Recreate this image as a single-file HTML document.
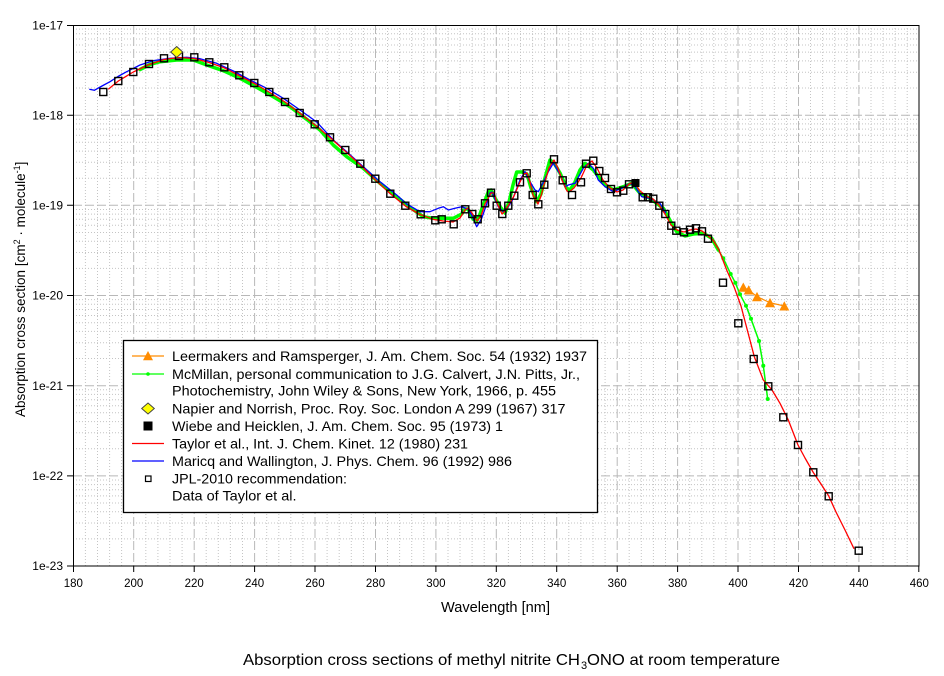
<!DOCTYPE html>
<html><head><meta charset="utf-8"><style>
html,body{margin:0;padding:0;background:#fff;}
svg{display:block;font-family:"Liberation Sans",Arial,sans-serif;}
</style></head><body>
<svg width="944" height="676" viewBox="0 0 944 676" xmlns="http://www.w3.org/2000/svg">
<rect x="0" y="0" width="944" height="676" fill="#fff"/>
<!-- minor grid vertical -->
<path fill="none" stroke="#c4c4c4" stroke-width="1" stroke-dasharray="1,2" d="
M85.4 25V566M97.5 25V566M109.6 25V566M121.6 25V566
M145.8 25V566M157.9 25V566M170 25V566M182.1 25V566
M206.2 25V566M218.3 25V566M230.4 25V566M242.5 25V566
M266.7 25V566M278.8 25V566M290.8 25V566M302.9 25V566
M327.1 25V566M339.2 25V566M351.3 25V566M363.4 25V566
M387.5 25V566M399.6 25V566M411.7 25V566M423.8 25V566
M448 25V566M460 25V566M472.1 25V566M484.2 25V566
M508.4 25V566M520.5 25V566M532.6 25V566M544.6 25V566
M568.8 25V566M580.9 25V566M593 25V566M605.1 25V566
M629.2 25V566M641.3 25V566M653.4 25V566M665.5 25V566
M689.7 25V566M701.8 25V566M713.8 25V566M725.9 25V566
M750.1 25V566M762.2 25V566M774.3 25V566M786.4 25V566
M810.5 25V566M822.6 25V566M834.7 25V566M846.8 25V566
M871 25V566M883 25V566M895.1 25V566M907.2 25V566"/>
<!-- minor grid horizontal -->
<path fill="none" stroke="#c4c4c4" stroke-width="1" stroke-dasharray="1,2" d="
M73 29.1H919M73 33.7H919M73 39H919M73 45H919M73 52.1H919M73 60.9H919M73 72.2H919M73 88H919
M73 119.3H919M73 123.9H919M73 129.1H919M73 135.2H919M73 142.3H919M73 151.1H919M73 162.3H919M73 178.2H919
M73 209.5H919M73 214.1H919M73 219.3H919M73 225.3H919M73 232.5H919M73 241.2H919M73 252.5H919M73 268.4H919
M73 299.6H919M73 304.3H919M73 309.5H919M73 315.5H919M73 322.7H919M73 331.4H919M73 342.7H919M73 358.5H919
M73 389.8H919M73 394.4H919M73 399.7H919M73 405.7H919M73 412.8H919M73 421.6H919M73 432.8H919M73 448.7H919
M73 480H919M73 484.6H919M73 489.8H919M73 495.9H919M73 503H919M73 511.7H919M73 523H919M73 538.9H919"/>
<!-- major grid -->
<path fill="none" stroke="#b8b8b8" stroke-width="1" stroke-dasharray="9,3" d="
M133.7 25V566M194.2 25V566M254.6 25V566M315 25V566M375.5 25V566M435.9 25V566M496.3 25V566
M556.7 25V566M617.2 25V566M677.6 25V566M738 25V566M798.5 25V566M858.9 25V566
M73 115.2H919M73 205.3H919M73 295.5H919M73 385.7H919M73 475.9H919"/>
<!-- frame -->
<rect x="73.5" y="25.5" width="845.5" height="540.5" fill="none" stroke="#000" stroke-width="1"/>
<!-- ticks -->
<path fill="none" stroke="#000" stroke-width="1" d="
M67 25.5H73M67 115.2H73M67 205.3H73M67 295.5H73M67 385.7H73M67 475.9H73M67 566H73
M73.5 566V572M133.7 566V572M194.2 566V572M254.6 566V572M315 566V572M375.5 566V572M435.9 566V572M496.3 566V572
M556.7 566V572M617.2 566V572M677.6 566V572M738 566V572M798.5 566V572M858.9 566V572M918.8 566V572"/>
<!-- y tick labels -->
<g font-size="12" text-anchor="end" fill="#000">
<text x="63" y="29.5">1e-17</text>
<text x="63" y="119.5">1e-18</text>
<text x="63" y="209.5">1e-19</text>
<text x="63" y="299.5">1e-20</text>
<text x="63" y="390">1e-21</text>
<text x="63" y="480">1e-22</text>
<text x="63" y="570">1e-23</text>
</g>
<!-- x tick labels -->
<g font-size="11.5" text-anchor="middle" fill="#000">
<text x="73.3" y="587">180</text>
<text x="133.7" y="587">200</text>
<text x="194.2" y="587">220</text>
<text x="254.6" y="587">240</text>
<text x="315" y="587">260</text>
<text x="375.5" y="587">280</text>
<text x="435.9" y="587">300</text>
<text x="496.3" y="587">320</text>
<text x="556.7" y="587">340</text>
<text x="617.2" y="587">360</text>
<text x="677.6" y="587">380</text>
<text x="738" y="587">400</text>
<text x="798.5" y="587">420</text>
<text x="858.9" y="587">440</text>
<text x="919.3" y="587">460</text>
</g>
<!-- axis titles -->
<text x="441" y="612" font-size="14.5" textLength="109" lengthAdjust="spacingAndGlyphs">Wavelength [nm]</text>
<text transform="translate(25,417) rotate(-90)" font-size="13.5">Absorption cross section [cm<tspan dy="-5" font-size="9">2</tspan><tspan dy="5"> · molecule</tspan><tspan dy="-5" font-size="9">-1</tspan><tspan dy="5">]</tspan></text>
<!-- title -->
<text x="243" y="665" font-size="16" textLength="337" lengthAdjust="spacingAndGlyphs">Absorption cross sections of methyl nitrite CH</text>
<text x="581" y="669" font-size="11">3</text>
<text x="587" y="665" font-size="16" textLength="193" lengthAdjust="spacingAndGlyphs">ONO at room temperature</text>

<!-- Green McMillan -->
<polyline fill="none" stroke="#00ff00" stroke-width="3.5" stroke-linejoin="round" stroke-linecap="round" points="140,69.5 150,64.5 160,61.7 176.7,60 193.3,60 206.7,65 223.3,70.7 240,78.3 256.7,87.3 273.3,96.7 290,106.7 306.7,119.3 320,130 333.3,145 346.7,156.7 363.3,168.3 380,183.3 396.7,196.7 410,207.3 423.3,216.7 433.3,218.3 443.3,218.3 453.3,218.3 461.7,214 465,209 468,209 473,219 476.7,221 480,214 483.3,205 488.3,191.7 491,190 495,198 500,206.7 505,213 509,202 513,185 516.7,172 522,172 527,174 531,188 536.7,201.7 541,194 545,178 550,160 554,163 560,173 566.7,188.3 570,190 575,182 580,170 585,163.3 593.3,170 603.3,183.3 613.3,190 623.3,186.7 631.7,183.3 640,193.3 650,198.3 663.3,208.3 671.7,223.3 676.7,231.7 685,236 693.3,234 703.3,233.3 711.7,238.3 718.3,250"/>
<polyline fill="none" stroke="#00ff00" stroke-width="1.5" stroke-linejoin="round" points="718.3,250 723.3,258.3 730.7,274 735.3,282.7 740,294.3 746,305.7 751,318.7 759,341 763.3,365.7 767.7,399"/>
<g fill="#00ff00">
<circle cx="723.3" cy="258.3" r="2"/><circle cx="730.7" cy="274" r="2"/><circle cx="735.3" cy="282.7" r="2"/><circle cx="740" cy="294.3" r="2"/><circle cx="746" cy="305.7" r="2"/><circle cx="751" cy="318.7" r="2"/><circle cx="759" cy="341" r="2"/><circle cx="763.3" cy="365.7" r="2"/><circle cx="767.7" cy="399" r="2"/>
</g>
<!-- Blue Maricq -->
<polyline fill="none" stroke="#0000ff" stroke-width="1.3" stroke-linejoin="round" points="89.3,89.3 94.3,90.3 102,86 110,81.7 118,76.5 126.7,71.7 140,65 153.3,60.7 170,58.3 186.7,57.3 200,58.7 216.7,63.3 233.3,71 250,80 266.7,88.3 283.3,98.3 300,110 316.7,122 333.3,140 346.7,151.7 363.3,166.7 380,181.7 396.7,195 406.7,204 420,211.7 430,211.7 438.3,208.3 443.3,206.7 448.3,210 455,208.3 461.7,206.7 465,208 468,209 471.7,215 476.7,226.7 481.7,218.3 486.7,204 490,193 492,192 498.3,206.7 503.3,211.7 507,208 511.7,201.7 520,180 525,171.7 530,181.7 535,190 538.3,191.7 543,183 548.3,171.7 553.3,163.3 560,174 565,186.7 568.3,185 575,183.3 583.3,168.3 588.3,163.3 593.3,168.3 598.3,180 605,186.7 613.3,191.7 621.7,188.3 630,183.3 635,186.7 641.7,196.7 650,198.3 660,203.3 666,213"/>
<!-- Red Taylor -->
<polyline fill="none" stroke="#ff0000" stroke-width="1.3" stroke-linejoin="round" points="108.3,89.3 118.3,81 133.3,72 148,65 164,59.5 179,57.5 194,58.5 209,62.5 224,67.8 239,75.5 254,83.3 269,92 285,102 300,113.3 315,125 330,137.5 345.5,151.5 360.5,165 375.5,180 390,193.5 398,200 406,206.5 420,214.5 433,219.3 443,221 453,222 460,218 465,210 468,208 472,213 477,221 481,216 485,204 491,193 494,193 497,203 502,214 505,211 508,206 514,196 520,182 524,174 527,173 530,182 533,195 538,204 541,196 544,185 549,168 554,160 558,168 562,180 567,191 569,192 574,188 581,178 587,165 592,161 597,168 603,180 610,188 617,192 623,190 629,184 634,182 640,191 648,197 653,199 659,205 665,214 671,225 677,230 684,232 690,230 696,229 702,231 707,235 713,240 719,250 726.7,270 734,286.7 741,306 747.3,330 754.3,356.7 763.3,380 772,390 780,403.3 788.3,420 798,445 805,458 813,472 821,484 828.7,496 836,512 845,530 854,548.7"/>
<!-- Orange Leermakers -->
<polyline fill="none" stroke="#ff8c00" stroke-width="1.2" points="743.3,287.3 748.7,290 757,296.7 770,302.7 784.3,306"/>
<g fill="#ff8c00">
<polygon points="738.3,291.8 748.3,291.8 743.3,282.5"/>
<polygon points="743.7,294.5 753.7,294.5 748.7,285.2"/>
<polygon points="752,301.2 762,301.2 757,291.9"/>
<polygon points="765,307.2 775,307.2 770,297.9"/>
<polygon points="779.3,310.5 789.3,310.5 784.3,301.2"/>
</g>
<!-- JPL squares -->
<g fill="none" stroke="#000" stroke-width="1.4">
<rect x="99.8" y="88.5" width="7" height="7"/><rect x="114.8" y="77.5" width="7" height="7"/><rect x="129.8" y="68.5" width="7" height="7"/><rect x="145.5" y="60.5" width="7" height="7"/><rect x="160.5" y="54.8" width="7" height="7"/><rect x="175.5" y="52.5" width="7" height="7"/><rect x="190.8" y="53.8" width="7" height="7"/><rect x="205.8" y="58.8" width="7" height="7"/><rect x="220.8" y="63.8" width="7" height="7"/><rect x="235.8" y="71.8" width="7" height="7"/><rect x="250.8" y="79.5" width="7" height="7"/><rect x="265.8" y="88.5" width="7" height="7"/><rect x="281.5" y="98.5" width="7" height="7"/><rect x="296.2" y="109.5" width="7" height="7"/><rect x="311.2" y="120.8" width="7" height="7"/><rect x="326.5" y="133.8" width="7" height="7"/><rect x="341.8" y="146.5" width="7" height="7"/><rect x="356.8" y="160.2" width="7" height="7"/><rect x="371.8" y="175.2" width="7" height="7"/><rect x="386.8" y="190.2" width="7" height="7"/><rect x="401.8" y="202.2" width="7" height="7"/><rect x="417.2" y="210.8" width="7" height="7"/><rect x="431.8" y="216.8" width="7" height="7"/><rect x="438.2" y="215.8" width="7" height="7"/><rect x="450.2" y="220.8" width="7" height="7"/><rect x="461.8" y="205.8" width="7" height="7"/><rect x="468.8" y="210.5" width="7" height="7"/><rect x="474.2" y="215.8" width="7" height="7"/><rect x="481.5" y="199.8" width="7" height="7"/><rect x="487.5" y="189.2" width="7" height="7"/><rect x="493.2" y="202.2" width="7" height="7"/><rect x="498.8" y="210.5" width="7" height="7"/><rect x="504.8" y="202.2" width="7" height="7"/><rect x="510.8" y="192.2" width="7" height="7"/><rect x="516.5" y="178.8" width="7" height="7"/><rect x="523.2" y="169.8" width="7" height="7"/><rect x="529.2" y="191.5" width="7" height="7"/><rect x="534.8" y="200.8" width="7" height="7"/><rect x="540.8" y="181.2" width="7" height="7"/><rect x="550.5" y="155.8" width="7" height="7"/><rect x="559.2" y="176.8" width="7" height="7"/><rect x="568.5" y="191.5" width="7" height="7"/><rect x="577.5" y="178.8" width="7" height="7"/><rect x="582.5" y="160.2" width="7" height="7"/><rect x="589.8" y="157.2" width="7" height="7"/><rect x="595.8" y="167.5" width="7" height="7"/><rect x="601.5" y="174.5" width="7" height="7"/><rect x="607.5" y="185.5" width="7" height="7"/><rect x="613.5" y="188.8" width="7" height="7"/><rect x="619.8" y="187.2" width="7" height="7"/><rect x="625.5" y="180.8" width="7" height="7"/><rect x="639.2" y="193.8" width="7" height="7"/><rect x="644.5" y="193.8" width="7" height="7"/><rect x="649.8" y="195.2" width="7" height="7"/><rect x="655.8" y="202.2" width="7" height="7"/><rect x="661.8" y="210.5" width="7" height="7"/><rect x="667.8" y="222.2" width="7" height="7"/><rect x="672.8" y="227.2" width="7" height="7"/><rect x="680.5" y="228.8" width="7" height="7"/><rect x="686.5" y="226.2" width="7" height="7"/><rect x="692.5" y="224.8" width="7" height="7"/><rect x="698.5" y="227.8" width="7" height="7"/><rect x="704.5" y="235.2" width="7" height="7"/><rect x="719.5" y="279.2" width="7" height="7"/><rect x="734.8" y="319.8" width="7" height="7"/><rect x="750.2" y="355.5" width="7" height="7"/><rect x="764.8" y="382.8" width="7" height="7"/><rect x="779.8" y="413.8" width="7" height="7"/><rect x="794.5" y="441.5" width="7" height="7"/><rect x="809.8" y="468.8" width="7" height="7"/><rect x="825.2" y="492.8" width="7" height="7"/><rect x="855.2" y="547.2" width="7" height="7"/>
</g>
<!-- Napier diamond -->
<polygon points="176.7,46.5 182.7,52 176.7,57.5 170.7,52" fill="#ffff00" stroke="#444" stroke-width="1"/>
<!-- Wiebe black square -->
<rect x="631.5" y="179" width="8" height="8" fill="#000"/>

<!-- Legend -->
<rect x="123.5" y="340.5" width="474" height="172" fill="#fff" stroke="#000" stroke-width="1.3"/>
<line x1="132" y1="356" x2="164" y2="356" stroke="#ff8c00" stroke-width="1.3"/>
<polygon points="143,360.3 153,360.3 148,351" fill="#ff8c00"/>
<line x1="132" y1="374" x2="164" y2="374" stroke="#00ff00" stroke-width="1.3"/>
<circle cx="148" cy="374" r="1.8" fill="#00ff00"/>
<polygon points="148,403 154.3,408.5 148,414 141.7,408.5" fill="#ffff00" stroke="#444" stroke-width="1"/>
<rect x="143.5" y="421.5" width="9" height="9" fill="#000"/>
<line x1="132" y1="443.5" x2="164" y2="443.5" stroke="#ff0000" stroke-width="1.3"/>
<line x1="132" y1="461" x2="164" y2="461" stroke="#0000ff" stroke-width="1.3"/>
<rect x="145.5" y="476" width="5.5" height="5.5" fill="none" stroke="#000" stroke-width="1.2"/>
<g font-size="14" fill="#000">
<text x="172" y="361" textLength="415" lengthAdjust="spacingAndGlyphs">Leermakers and Ramsperger, J. Am. Chem. Soc. 54 (1932) 1937</text>
<text x="172" y="379" textLength="408" lengthAdjust="spacingAndGlyphs">McMillan, personal communication to J.G. Calvert, J.N. Pitts, Jr.,</text>
<text x="172" y="395.5" textLength="384" lengthAdjust="spacingAndGlyphs">Photochemistry, John Wiley &amp; Sons, New York, 1966, p. 455</text>
<text x="172" y="413.3" textLength="393.5" lengthAdjust="spacingAndGlyphs">Napier and Norrish, Proc. Roy. Soc. London A 299 (1967) 317</text>
<text x="172" y="431" textLength="331" lengthAdjust="spacingAndGlyphs">Wiebe and Heicklen, J. Am. Chem. Soc. 95 (1973) 1</text>
<text x="172" y="448.3" textLength="296" lengthAdjust="spacingAndGlyphs">Taylor et al., Int. J. Chem. Kinet. 12 (1980) 231</text>
<text x="172" y="466" textLength="340" lengthAdjust="spacingAndGlyphs">Maricq and Wallington, J. Phys. Chem. 96 (1992) 986</text>
<text x="172" y="483.5" textLength="175" lengthAdjust="spacingAndGlyphs">JPL-2010 recommendation:</text>
<text x="172" y="500.7" textLength="124.5" lengthAdjust="spacingAndGlyphs">Data of Taylor et al.</text>
</g>
</svg>
</body></html>
